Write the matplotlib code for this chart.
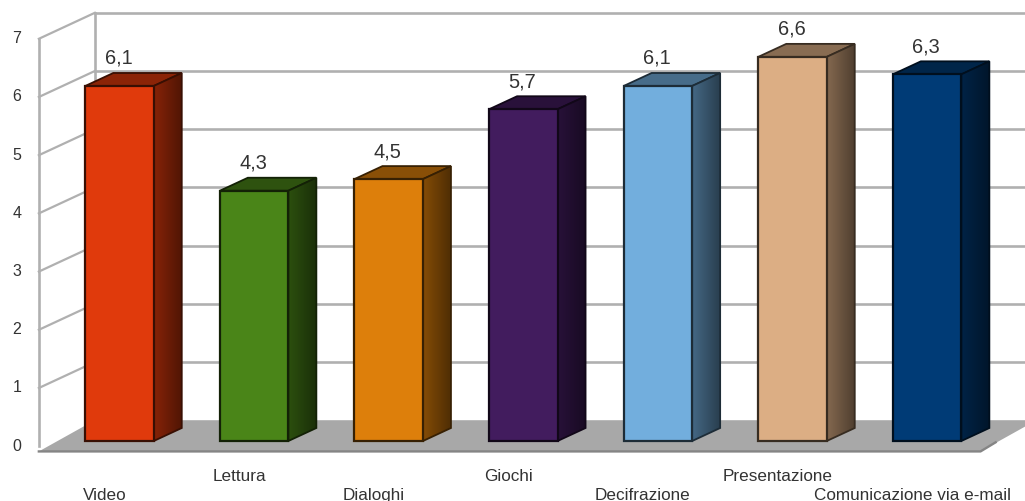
import matplotlib
matplotlib.use("Agg")
import matplotlib.pyplot as plt
from matplotlib.patches import Polygon
import matplotlib.colors as mcolors
import numpy as np

# Data
categories = ["Video", "Lettura", "Dialoghi", "Giochi", "Decifrazione", "Presentazione", "Comunicazione via e-mail"]
values = [6.1, 4.3, 4.5, 5.7, 6.1, 6.6, 6.3]
value_labels = ["6,1", "4,3", "4,5", "5,7", "6,1", "6,6", "6,3"]
y_ticks = [0, 1, 2, 3, 4, 5, 6, 7]
bar_colors = ["#e03a0c", "#4a8518", "#dd7f0b", "#421c5e", "#72aedd", "#dcae84", "#003b76"]

plt.rcParams['font.family'] = ['Liberation Sans', 'DejaVu Sans']

# one category is 134.6 px wide, one value unit 58.2 px high
fig = plt.figure(figsize=(10.25, 5.01), dpi=100)
ax = fig.add_axes([0, 0, 1, 1])
xlim = (-119.5/134.6, (1025-119.5)/134.6)
ylim = (-60/58.2, 441/58.2)
ax.axis("off")

# shift of one bar depth, in data units
DX = 28/134.6
DY = 13/58.2
BAR_W = 68.5/134.6
GRID = "#b0b0b0"
TEXT = "#333333"
WALL_L = -0.516
WALL_R = 6.48
D_FRONT = -0.4
D_BACK = 1.6

def proj(x, v, d):
    return (x + d*DX, v + d*DY)

def shade(color, f):
    return tuple(c*f for c in mcolors.to_rgb(color))

# floor slab
floor = [proj(WALL_L, -0.09, D_FRONT), proj(WALL_R, -0.09, D_FRONT), proj(WALL_R, 0, D_BACK), proj(WALL_L, 0, D_BACK)]
ax.add_patch(Polygon(floor, closed=True, fc="#a8a8a8", ec="none", zorder=2))
ax.plot(*zip(floor[0], floor[1], proj(WALL_R+0.05, 0.0, D_FRONT+0.3)), color="#858585", lw=1.7, zorder=2.1)

# back wall gridlines and the diagonals on the left wall
for t in y_ticks:
    if t > 0:
        ax.plot(*zip(proj(WALL_L, t, D_BACK), proj(WALL_R+1, t, D_BACK)), color=GRID, lw=1.9, zorder=1)
        ax.plot(*zip(proj(WALL_L, t, D_FRONT), proj(WALL_L, t, D_BACK)), color=GRID, lw=1.6, zorder=1)
    ax.annotate(str(t), xy=proj(WALL_L, t, D_FRONT), xytext=(-22, 0), textcoords="offset pixels",
                ha="center", va="center", fontsize=11.5, color=TEXT, zorder=5)
ax.plot(*zip(proj(WALL_L, 0, D_FRONT), proj(WALL_L, 7, D_FRONT)), color=GRID, lw=1.9, zorder=1)
ax.plot(*zip(proj(WALL_L, 0, D_BACK), proj(WALL_L, 7, D_BACK)), color=GRID, lw=1.9, zorder=1)

# bars: front face, top and a shaded side
side_ramp = np.linspace(0.6, 0.36, 64).reshape(1, -1, 1)
for i, (v, c) in enumerate(zip(values, bar_colors)):
    x0 = i - BAR_W/2
    x1 = i + BAR_W/2
    edge = shade(c, 0.25)
    ax.bar(i, v, width=BAR_W, color=c, edgecolor=edge, linewidth=1.6, zorder=4)
    top = [proj(x0, v, 0), proj(x1, v, 0), proj(x1, v, 1), proj(x0, v, 1)]
    ax.add_patch(Polygon(top, closed=True, fc=shade(c, 0.62), ec=edge, lw=1.3, zorder=3.5))

    side = [proj(x1, 0, 0), proj(x1, 0, 1), proj(x1, v, 1), proj(x1, v, 0)]
    outline = Polygon(side, closed=True, fc="none", ec=edge, lw=1.3, zorder=3.7)
    ax.add_patch(outline)
    clip = Polygon(side, closed=True, transform=ax.transData)
    img = ax.imshow(side_ramp * np.array(mcolors.to_rgb(c)), extent=(x1, x1 + DX, 0, v + DY),
                    aspect="auto", zorder=3.6, interpolation="bilinear")
    img.set_clip_path(clip)

    ax.annotate(value_labels[i], xy=(i, v), xytext=(-1, 22), textcoords="offset pixels",
                ha="center", va="baseline", fontsize=14.4, color=TEXT, zorder=6)

    # category names sit on two alternating rows
    baseline = 500 if i % 2 == 0 else 481
    ax.annotate(categories[i], xy=(i, 0), xytext=(-15, 441-baseline), textcoords="offset pixels",
                ha="center", va="baseline", fontsize=12.3, color=TEXT, zorder=6, annotation_clip=False)

ax.set_xlim(*xlim)
ax.set_ylim(*ylim)
fig.savefig("out.png", dpi=100)
